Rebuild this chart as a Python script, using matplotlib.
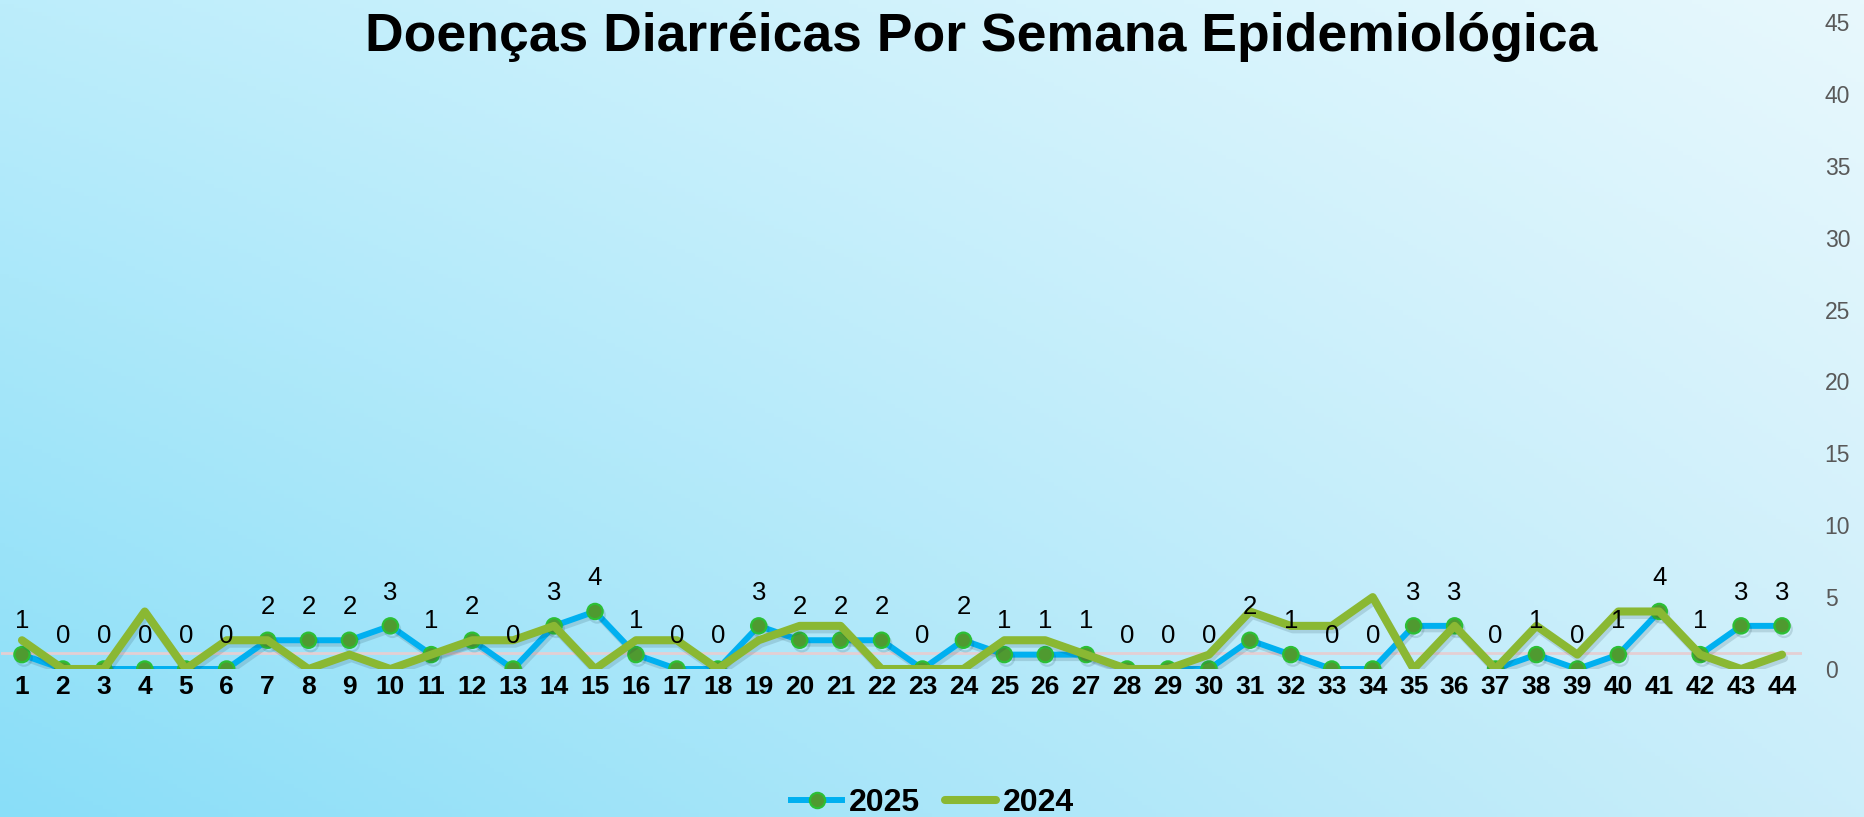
import numpy as np
import matplotlib.pyplot as plt
from matplotlib import patheffects as pe
from matplotlib.colors import to_rgb
from matplotlib.lines import Line2D

semanas = list(range(1, 45))
casos_2025 = [1, 0, 0, 0, 0, 0, 2, 2, 2, 3, 1, 2, 0, 3, 4, 1, 0, 0, 3, 2, 2, 2,
              0, 2, 1, 1, 1, 0, 0, 0, 2, 1, 0, 0, 3, 3, 0, 1, 0, 1, 4, 1, 3, 3]
casos_2024 = [2, 0, 0, 4, 0, 2, 2, 0, 1, 0, 1, 2, 2, 3, 0, 2, 2, 0, 2, 3, 3, 0,
              0, 0, 2, 2, 1, 0, 0, 1, 4, 3, 3, 5, 0, 3, 0, 3, 1, 4, 4, 1, 0, 1]
linha_ref = 1.1
yticks = list(range(0, 50, 5))
titulo = "Doenças Diarréicas Por Semana Epidemiológica"

plt.rcParams['font.family'] = ['Liberation Sans', 'DejaVu Sans']

W, H = 1865, 817
fig = plt.figure(figsize=(W / 100, H / 100), dpi=100)

# fundo em degrade (canto inferior esquerdo mais escuro)
bg = fig.add_axes([0, 0, 1, 1], zorder=-1)
tl, tr, bl, br = [np.array(to_rgb(c)) for c in ('#bcedfb', '#e8f8fd', '#89def8', '#cbeefa')]
u = np.linspace(0, 1, 400)[None, :, None]
v = np.linspace(0, 1, 200)[:, None, None]
img = (1 - v) * ((1 - u) * tl + u * tr) + v * ((1 - u) * bl + u * br)
bg.imshow(img, aspect='auto', extent=[0, 1, 0, 1])
bg.axis('off')

ax = fig.add_axes([1.5 / W, 148 / H, 1801 / W, 647 / H])
ax.set_facecolor('none')
for s in ax.spines.values():
    s.set_visible(False)

sombra = [pe.SimpleLineShadow(offset=(1.5, -2.5), shadow_color='#1a3a4a', alpha=0.15), pe.Normal()]

ax.axhline(linha_ref, color='#e4cfd3', lw=2, zorder=1)
ax.plot(semanas, casos_2025, color='#00b0f0', lw=4.3, marker='o', markersize=11,
        markerfacecolor='#4f9a30', markeredgecolor='#2cbf35', markeredgewidth=1.6,
        zorder=2, path_effects=sombra)
ax.plot(semanas, casos_2024, color='#8ab833', lw=5.8, solid_capstyle='round',
        zorder=3, path_effects=sombra)

for x, val in zip(semanas, casos_2025):
    ax.annotate(str(val), (x, val), xytext=(0, 24), textcoords='offset points',
                ha='center', va='center', fontsize=18.5, color='black', zorder=5)

ax.set_xlim(0.5, 44.5)
ax.set_ylim(0, 45)
ax.set_xticks(semanas)
ax.set_xticklabels([str(s) for s in semanas], fontsize=19, fontweight='bold')
ax.tick_params(axis='x', length=0, pad=4)
ax.yaxis.tick_right()
ax.set_yticks(yticks)
ax.tick_params(axis='y', length=0, pad=16, labelsize=16.5, labelcolor='#595959')

fig.text(981 / W, 1 - 37 / H, titulo, fontsize=38.5, fontweight='bold',
         ha='center', va='center')

handles = [
    Line2D([], [], color='#00b0f0', lw=4.3, marker='o', markersize=11,
           markerfacecolor='#4f9a30', markeredgecolor='#2cbf35', markeredgewidth=1.6),
    Line2D([], [], color='#8ab833', lw=5.8, solid_capstyle='round'),
]
fig.legend(handles, ['2025', '2024'], loc='center', bbox_to_anchor=(0.5, 14 / H),
           ncol=2, frameon=False, prop={'weight': 'bold', 'size': 23},
           handlelength=1.6, handletextpad=0.2, columnspacing=0.8, numpoints=1)

fig.savefig('out.png', dpi=100)
